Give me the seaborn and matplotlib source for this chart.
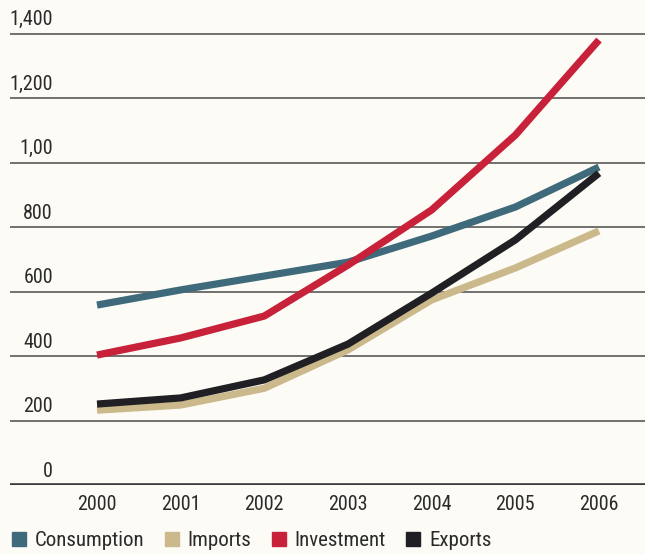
import numpy as np
import pandas as pd
import seaborn as sns
import matplotlib.pyplot as plt
from matplotlib.transforms import blended_transform_factory
from matplotlib.lines import Line2D

sns.set_theme(style="white")
plt.rcParams['font.family'] = ['Roboto Condensed', 'DejaVu Sans']

years = [2000, 2001, 2002, 2003, 2004, 2005, 2006]
consumption = [558, 605, 648, 691, 772, 862, 986]
imports = [232, 248, 300, 419, 574, 673, 788]
investment = [403, 456, 524, 682, 853, 1085, 1380]
exports = [251, 270, 326, 437, 595, 760, 967]

y_ticks = [0, 200, 400, 600, 800, 1000, 1200, 1400]
y_labels = ["0", "200", "400", "600", "800", "1,00", "1,200", "1,400"]

series_names = ["Consumption", "Imports", "Investment", "Exports"]
colors = {"Consumption": "#3f6a7c", "Imports": "#cbb98b",
          "Investment": "#c8213a", "Exports": "#1f1f24"}

df = pd.DataFrame({
    "year": years * 4,
    "value": consumption + imports + investment + exports,
    "series": sum([[n] * len(years) for n in series_names], []),
})

bg = "#fcfbf6"
txt_color = "#2a2a2a"
fig = plt.figure(figsize=(6.45, 5.54), dpi=100, facecolor=bg)
ax = fig.add_axes([10 / 645, 69 / 554, 635 / 645, 465 / 554], facecolor=bg)

# horizontal rules behind the lines
for v in y_ticks[1:]:
    ax.axhline(v, color="#4a4a4a", lw=1.1, zorder=1)
ax.axhline(0, color="#3a3a3a", lw=2.6, zorder=1)

draw_order = ["Imports", "Consumption", "Investment", "Exports"]
for i, name in enumerate(draw_order):
    sns.lineplot(data=df[df.series == name], x="year", y="value",
                 color=colors[name], lw=5.2, ax=ax, zorder=3 + i,
                 legend=False, solid_capstyle="butt")

ax.set_xlim(1998.96, 2006.55)
ax.set_ylim(0, 1442)
ax.set_xlabel("")
ax.set_ylabel("")
ax.set_yticks([])
ax.set_xticks(years)
ax.set_xticklabels([str(y) for y in years], fontsize=14.5, color=txt_color)
ax.tick_params(axis="x", length=0, pad=7)
for s in ax.spines.values():
    s.set_visible(False)

# value labels sitting on top of each rule
tr = blended_transform_factory(ax.transAxes, ax.transData)
for v, lab in zip(y_ticks, y_labels):
    ax.annotate(lab, xy=(43 / 635, v), xycoords=tr, xytext=(0, 3),
                textcoords="offset points", ha="right", va="bottom",
                fontsize=14.5, color=txt_color)

handles = [Line2D([], [], marker="s", ls="none", markersize=10.5,
                  markerfacecolor=colors[n], markeredgecolor=colors[n])
           for n in series_names]
fig.legend(handles, series_names, loc="center left",
           bbox_to_anchor=(9 / 645, 13 / 554), borderpad=0, borderaxespad=0,
           ncol=4, frameon=False, fontsize=15, handletextpad=0.25,
           columnspacing=0.82, handlelength=1.0, labelcolor=txt_color)

fig.savefig("out.png", dpi=100, facecolor=bg)
